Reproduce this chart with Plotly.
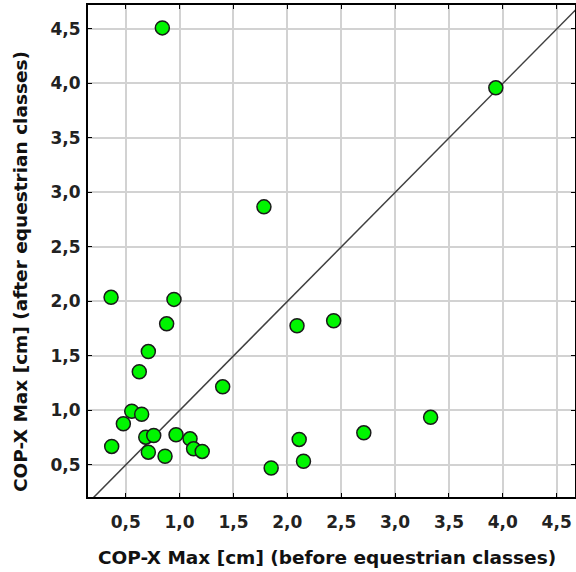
import plotly.graph_objects as go

before = [0.84, 3.935, 1.783, 0.364, 0.948, 0.88, 2.09, 2.43, 0.71, 0.626, 1.40,
          0.556, 0.648, 0.478, 0.37, 0.686, 0.76, 0.71, 0.865, 0.967, 1.097, 1.13,
          1.21, 1.85, 2.11, 2.15, 2.71, 3.33]
after = [4.51, 3.96, 2.868, 2.038, 2.019, 1.795, 1.777, 1.823, 1.54, 1.355, 1.217,
         0.993, 0.965, 0.878, 0.67, 0.755, 0.77, 0.617, 0.58, 0.777, 0.74, 0.648,
         0.624, 0.472, 0.734, 0.534, 0.795, 0.937]
ref_line = [0, 5]
tick_vals = [0.5, 1.0, 1.5, 2.0, 2.5, 3.0, 3.5, 4.0, 4.5]

x_title = "COP-X Max [cm] (before equestrian classes)"
y_title = "COP-X Max [cm] (after equestrian classes)"

fig = go.Figure()
fig.add_trace(go.Scatter(x=ref_line, y=ref_line, mode="lines",
                         line=dict(color="#404040", width=1.5), hoverinfo="skip",
                         showlegend=False))
fig.add_trace(go.Scatter(x=before, y=after, mode="markers",
                         marker=dict(size=14, color="#00F500",
                                     line=dict(color="#1a1a1a", width=1.5)),
                         showlegend=False, cliponaxis=False))

font_fam = "DejaVu Sans"
axis_common = dict(
    tickvals=tick_vals, tickformat=".1f",
    showgrid=True, gridcolor="#d2d2d2", gridwidth=2,
    showline=True, linecolor="black", linewidth=2, mirror="ticks",
    ticks="inside", ticklen=4, tickcolor="black", tickwidth=1,
    zeroline=False, automargin=False,
    tickfont=dict(family=font_fam, size=17, color="#222222", weight="bold"),
)

title_font = dict(family=font_fam, size=18.5, color="#111111", weight="bold")

fig.update_layout(
    width=576, height=572,
    margin=dict(l=88, r=1, t=5, b=75),
    paper_bgcolor="white", plot_bgcolor="white",
    separators=", ",
    xaxis=dict(range=[0.15, 4.67], ticklabelstandoff=9, **axis_common),
    yaxis=dict(range=[0.206, 4.72], ticklabelstandoff=2, **axis_common),
    annotations=[
        dict(text=x_title, xref="paper", yref="paper", x=0.5, y=0,
             xanchor="center", yanchor="middle", xshift=-5, yshift=-60,
             showarrow=False, font=title_font),
        dict(text=y_title, xref="paper", yref="paper", x=0, y=0.5,
             xanchor="center", yanchor="middle", xshift=-68, yshift=-21,
             textangle=-90, showarrow=False, font=title_font),
    ],
)

fig.write_html("out.html", config={"displayModeBar": False},
               post_script="document.body.style.margin='0';document.body.style.overflow='hidden';")
